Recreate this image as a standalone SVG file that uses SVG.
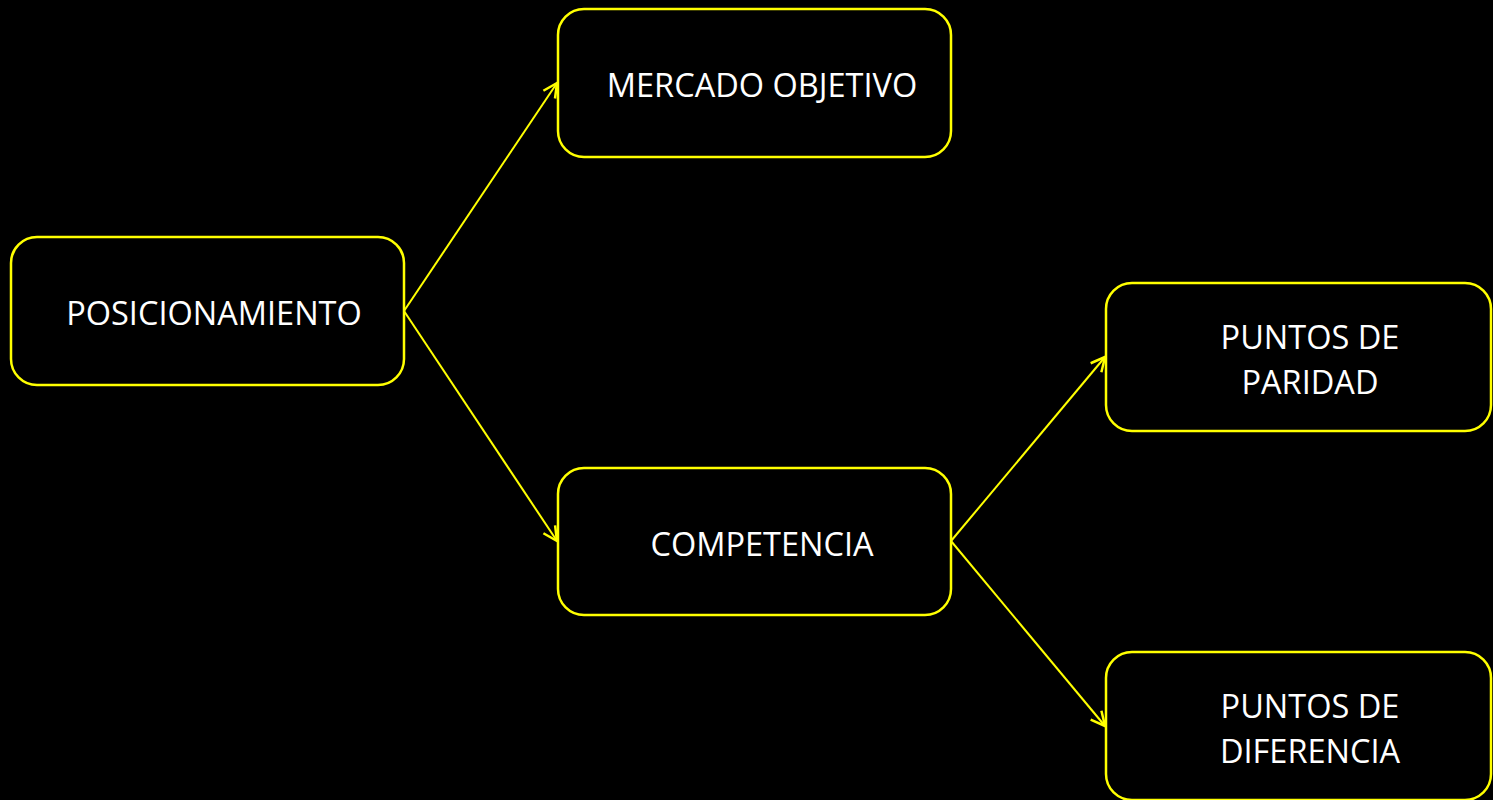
<svg xmlns="http://www.w3.org/2000/svg" width="1493" height="800" viewBox="0 0 1493 800">
<style>
.box{fill:#000;stroke:#FFFF00;stroke-width:2.5}
.lbl{fill:#fff;font-family:"Open Sans","Noto Sans",sans-serif;font-size:32.5px;text-anchor:middle}
.con{stroke:#FFFF00;stroke-width:2;fill:none}
</style>
<defs>
<marker id="arr" markerUnits="userSpaceOnUse" markerWidth="20" markerHeight="20" refX="16" refY="10" orient="auto">
<path d="M2,3 L16,10 L2,17" fill="none" stroke="#FFFF00" stroke-width="2.5"/>
</marker>
</defs>
<rect width="1493" height="800" fill="#000"/>
<g id="connectors">
<line class="con" x1="404" y1="311" x2="557" y2="83" marker-end="url(#arr)"/>
<line class="con" x1="404" y1="311" x2="557" y2="541" marker-end="url(#arr)"/>
<line class="con" x1="951" y1="541" x2="1105" y2="357" marker-end="url(#arr)"/>
<line class="con" x1="951" y1="541" x2="1105" y2="726" marker-end="url(#arr)"/>
</g>
<g id="posicionamiento">
<rect class="box" x="11" y="237" width="393" height="148" rx="26"/>
<text class="lbl" x="214" y="325">POSICIONAMIENTO</text>
</g>
<g id="mercado">
<rect class="box" x="558" y="9" width="393" height="148" rx="26"/>
<text class="lbl" x="762" y="97">MERCADO OBJETIVO</text>
</g>
<g id="competencia">
<rect class="box" x="558" y="468" width="393" height="147" rx="26"/>
<text class="lbl" x="762" y="556">COMPETENCIA</text>
</g>
<g id="paridad">
<rect class="box" x="1106" y="283" width="385" height="148" rx="26"/>
<text class="lbl" x="1310" y="349">PUNTOS DE</text>
<text class="lbl" x="1310" y="394">PARIDAD</text>
</g>
<g id="diferencia">
<rect class="box" x="1106" y="652" width="385" height="148" rx="26"/>
<text class="lbl" x="1310" y="718">PUNTOS DE</text>
<text class="lbl" x="1310" y="763">DIFERENCIA</text>
</g>
</svg>
